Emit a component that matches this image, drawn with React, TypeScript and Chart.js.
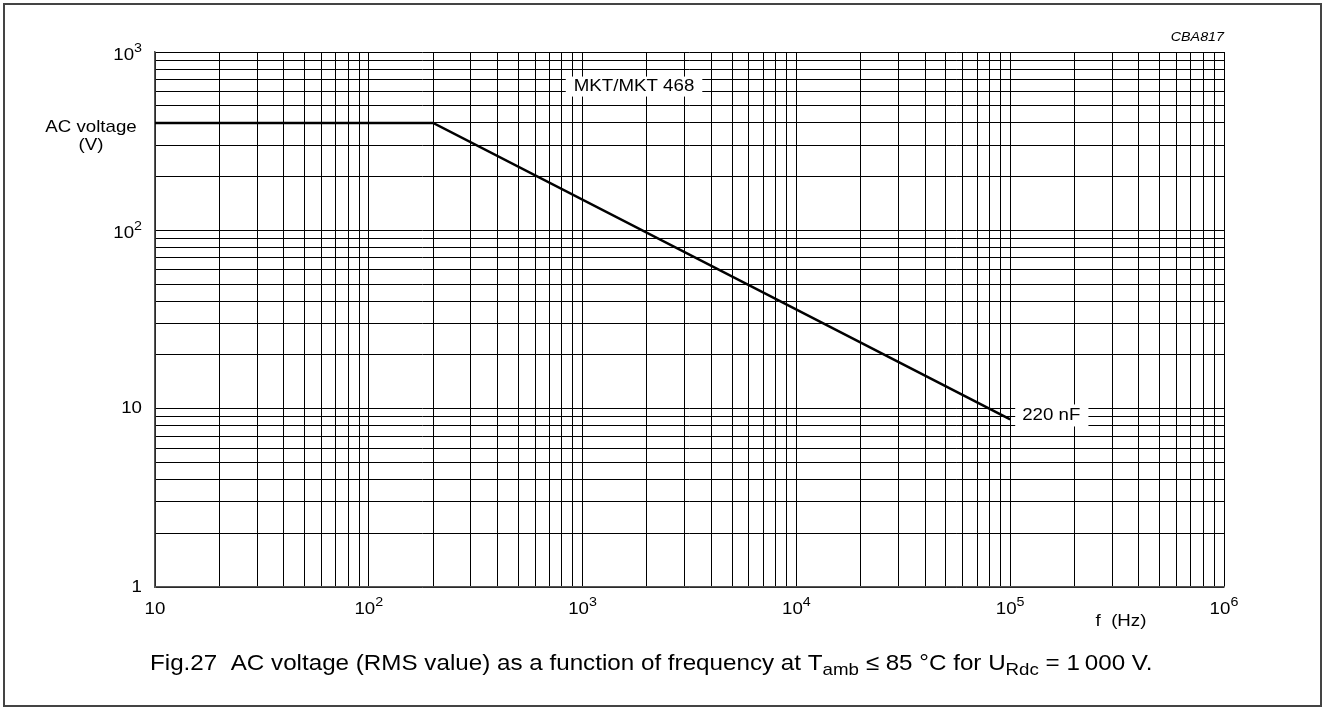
import React, { useEffect, useRef } from 'react';
import { Chart, registerables } from 'chart.js';

Chart.register(...registerables);

// ---- data ----
const freqHz = [10, 200, 100000];
const acVoltage = [400, 400, 8.7];
const xDecadeExponents = [1, 2, 3, 4, 5, 6];
const yDecadeExponents = [0, 1, 2, 3];
const curveLabel = 'MKT/MKT 468';
const curveLabelAt = [1740, 640];
const capLabel = '220 nF';
const yTitle = ['AC voltage', '(V)'];
const xTitle = 'f  (Hz)';
const figCode = 'CBA817';
const captionParts: [string, string][] = [
  ['n', 'Fig.27  AC voltage (RMS value) as a function of frequency at T'],
  ['sub', 'amb'],
  ['n', ' \u2264 85 \u00B0C for U'],
  ['sub', 'Rdc'],
  ['n', ' = 1\u2009000 V.'],
];

const FONT = '"Liberation Sans", Arial, sans-serif';
const SX = 1.1;
const FS = 17;
const CAPTION_FS = 22;

function logGridTicks(minExp: number, maxExp: number) {
  const out: { value: number; major: boolean }[] = [];
  for (let e = minExp; e < maxExp; e++) {
    for (let s = 1; s <= 9; s++) out.push({ value: s * Math.pow(10, e), major: s === 1 });
  }
  out.push({ value: Math.pow(10, maxExp), major: true });
  return out;
}

type Part = [string, string];

function partFont(kind: string, size: number, italic = false) {
  const s = kind === 'n' ? size : Math.round(size * 0.76);
  return `${italic ? 'italic ' : ''}${s}px ${FONT}`;
}

function richWidth(ctx: CanvasRenderingContext2D, parts: Part[], size: number) {
  let w = 0;
  for (const [k, t] of parts) {
    ctx.font = partFont(k, size);
    w += ctx.measureText(t).width * SX;
  }
  return w;
}

function drawRich(
  ctx: CanvasRenderingContext2D,
  parts: Part[],
  x: number,
  y: number,
  size: number,
  align: 'left' | 'center' | 'right'
) {
  const w = richWidth(ctx, parts, size);
  let cx = align === 'left' ? x : align === 'center' ? x - w / 2 : x - w;
  ctx.textBaseline = 'middle';
  ctx.textAlign = 'left';
  for (const [k, t] of parts) {
    ctx.font = partFont(k, size);
    const dy = k === 'sup' ? -size * 0.4 : k === 'sub' ? size * 0.3 : 0;
    ctx.save();
    ctx.translate(cx, y + dy);
    ctx.scale(SX, 1);
    ctx.fillText(t, 0, 0);
    ctx.restore();
    cx += ctx.measureText(t).width * SX;
  }
}

function decadeParts(exp: number): Part[] {
  if (exp === 0) return [['n', '1']];
  if (exp === 1) return [['n', '10']];
  return [
    ['n', '10'],
    ['sup', String(exp)],
  ];
}

const textPlugin = {
  id: 'figureText',
  beforeDraw(chart: any) {
    const ctx = chart.ctx as CanvasRenderingContext2D;
    ctx.save();
    ctx.fillStyle = '#fff';
    ctx.fillRect(0, 0, chart.width, chart.height);
    ctx.restore();
  },
  afterDatasetsDraw(chart: any) {
    const ctx = chart.ctx as CanvasRenderingContext2D;
    const xs = chart.scales.x;
    const ys = chart.scales.y;
    ctx.save();
    ctx.fillStyle = '#000';

    // annotation: curve family label
    {
      const px = xs.getPixelForValue(curveLabelAt[0]);
      const py = ys.getPixelForValue(curveLabelAt[1]);
      ctx.font = `${FS}px ${FONT}`;
      const w = ctx.measureText(curveLabel).width * SX;
      ctx.fillStyle = '#fff';
      ctx.fillRect(px - w / 2 - 8, py - 10, w + 16, 20);
      ctx.fillStyle = '#000';
      drawRich(ctx, [['n', curveLabel]], px, py, FS, 'center');
    }
    // annotation: capacitance at end of line
    {
      const n = freqHz.length - 1;
      const px = xs.getPixelForValue(freqHz[n]);
      const py = ys.getPixelForValue(acVoltage[n]);
      ctx.font = `${FS}px ${FONT}`;
      const w = ctx.measureText(capLabel).width * SX;
      ctx.fillStyle = '#fff';
      ctx.fillRect(px + 5, py - 15, w + 15, 22);
      ctx.fillStyle = '#000';
      drawRich(ctx, [['n', capLabel]], px + 12, py - 4, FS, 'left');
    }
    ctx.restore();
  },
  afterDraw(chart: any) {
    const ctx = chart.ctx as CanvasRenderingContext2D;
    const xs = chart.scales.x;
    const ys = chart.scales.y;
    const ca = chart.chartArea;
    ctx.save();
    ctx.fillStyle = '#000';

    // x tick labels
    for (const e of xDecadeExponents) {
      const px = xs.getPixelForValue(Math.pow(10, e));
      drawRich(ctx, decadeParts(e), px, ca.bottom + 22, FS, 'center');
    }
    // y tick labels
    for (const e of yDecadeExponents) {
      const py = ys.getPixelForValue(Math.pow(10, e));
      const p = decadeParts(e);
      drawRich(ctx, p, ca.left - 13, py + (p.length > 1 ? 3 : 0), FS, 'right');
    }
    // axis titles
    drawRich(ctx, [['n', yTitle[0]]], ca.left - 64, ca.top + 75, FS, 'center');
    drawRich(ctx, [['n', yTitle[1]]], ca.left - 64, ca.top + 93, FS, 'center');
    drawRich(ctx, [['n', xTitle]], ca.right - 103, ca.bottom + 34, FS, 'center');

    // figure code
    ctx.font = `italic 13px ${FONT}`;
    ctx.textAlign = 'right';
    ctx.textBaseline = 'middle';
    ctx.save();
    ctx.translate(ca.right, ca.top - 15);
    ctx.scale(SX, 1);
    ctx.fillText(figCode, 0, 0);
    ctx.restore();

    // caption
    drawRich(ctx, captionParts, ca.left - 5, ca.bottom + 77, CAPTION_FS, 'left');

    // outer frame
    ctx.strokeStyle = '#444';
    ctx.lineWidth = 2;
    ctx.strokeRect(4, 4, chart.width - 7, chart.height - 6);
    ctx.restore();
  },
};

export default function App() {
  const ref = useRef<HTMLCanvasElement | null>(null);

  useEffect(() => {
    if (!ref.current) return;
    const points = freqHz.map((f, i) => ({ x: f, y: acVoltage[i] }));
    const chart = new Chart(ref.current, {
      type: 'line',
      data: {
        datasets: [
          {
            data: points,
            borderColor: '#000',
            borderWidth: 2.6,
            pointRadius: 0,
            tension: 0,
            fill: false,
          },
        ],
      },
      options: {
        animation: false,
        responsive: false,
        maintainAspectRatio: false,
        layout: { padding: { left: 155, top: 52, right: 100, bottom: 121 } },
        plugins: { legend: { display: false }, tooltip: { enabled: false } },
        scales: {
          x: {
            type: 'logarithmic',
            min: 10,
            max: 1e6,
            ticks: { display: false, autoSkip: false },
            grid: { color: '#000', lineWidth: 1, drawTicks: false },
            border: { display: true, color: '#555', width: 1.5 },
            afterBuildTicks: (s: any) => {
              s.ticks = logGridTicks(1, 6);
            },
          },
          y: {
            type: 'logarithmic',
            min: 1,
            max: 1000,
            ticks: { display: false, autoSkip: false },
            grid: { color: '#000', lineWidth: 1, drawTicks: false },
            border: { display: true, color: '#555', width: 1.5 },
            afterBuildTicks: (s: any) => {
              s.ticks = logGridTicks(0, 3);
            },
          },
        },
      } as any,
      plugins: [textPlugin],
    });
    return () => chart.destroy();
  }, []);

  return (
    <div style={{ position: 'absolute', left: 0, top: 0, width: 1324, height: 708 }}>
      <canvas ref={ref} width={1324} height={708} style={{ width: 1324, height: 708, display: 'block' }} />
    </div>
  );
}
